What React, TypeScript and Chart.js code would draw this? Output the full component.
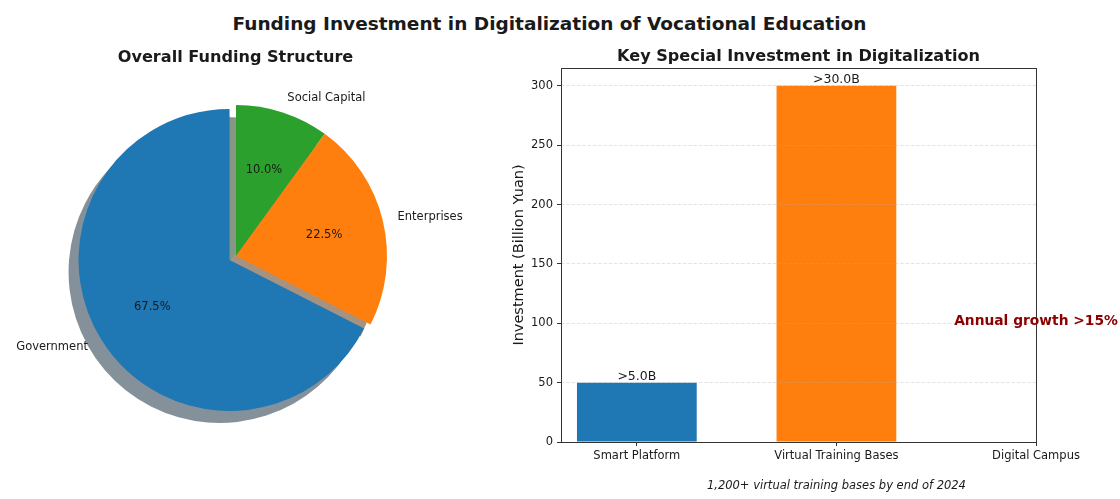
import React, { useEffect, useRef } from 'react';
import { Chart, registerables } from 'chart.js';

Chart.register(...registerables);

// ---------- data ----------
const mainTitle = 'Funding Investment in Digitalization of Vocational Education';
const pieTitle = 'Overall Funding Structure';
const barTitle = 'Key Special Investment in Digitalization';

const pieLabels = ['Government', 'Enterprises', 'Social Capital'];
const pieShares = [67.5, 22.5, 10.0];
const pieColors = ['#1f77b4', '#ff7f0e', '#2ca02c'];
const pieExplode = [0.05, 0, 0];

const barCategories = ['Smart Platform', 'Virtual Training Bases', 'Digital Campus'];
const barValues = [50, 300, 0];
const barValueLabels = ['>5.0B', '>30.0B', ''];
const barColors = ['#1f77b4', '#ff7f0e', '#2ca02c'];
const yTickValues = [0, 50, 100, 150, 200, 250, 300];
const yAxisTitle = 'Investment (Billion Yuan)';
const annotationText = 'Annual growth >15%';
const annotationAt = { x: 2, y: 100 };
const footnoteText = '1,200+ virtual training bases by end of 2024';

// ---------- styles ----------
const FONT = '"DejaVu Sans", "Liberation Sans", sans-serif';
const TEXT = '#1a1a1a';
const PIE_R = 151;
const SHADOW_DX = -10;
const SHADOW_DY = 12;

function shadowColor(hex: string) {
  const n = parseInt(hex.slice(1), 16);
  const r = (n >> 16) & 255, g = (n >> 8) & 255, b = n & 255;
  return `rgba(${Math.round(r * 0.3)},${Math.round(g * 0.3)},${Math.round(b * 0.3)},0.5)`;
}

// Chart.js draws clockwise from top; matplotlib counter-clockwise -> reverse order
const order = pieLabels.map((_, i) => pieLabels.length - 1 - i);
const ordLabels = order.map(i => pieLabels[i]);
const ordShares = order.map(i => pieShares[i]);
const ordColors = order.map(i => pieColors[i]);
const ordExplode = order.map(i => pieExplode[i]);

const pieDecor = {
  id: 'pieDecor',
  beforeDatasetDraw(chart: any, args: any) {
    const ctx = chart.ctx;
    const els = args.meta.data;
    const shift = (el: any, i: number) => {
      const mid = (el.startAngle + el.endAngle) / 2;
      const d = ordExplode[i] * el.outerRadius;
      return [Math.cos(mid) * d, Math.sin(mid) * d];
    };
    els.forEach((el: any, i: number) => {
      const [sx, sy] = shift(el, i);
      ctx.save();
      ctx.translate(sx + SHADOW_DX, sy + SHADOW_DY);
      ctx.beginPath();
      ctx.moveTo(el.x, el.y);
      ctx.arc(el.x, el.y, el.outerRadius, el.startAngle, el.endAngle);
      ctx.closePath();
      ctx.fillStyle = shadowColor(ordColors[i]);
      ctx.fill();
      ctx.restore();
    });
    els.forEach((el: any, i: number) => {
      const [sx, sy] = shift(el, i);
      ctx.save();
      ctx.translate(sx, sy);
      el.draw(ctx);
      ctx.restore();
    });
    return false;
  },
  afterDatasetsDraw(chart: any) {
    const ctx = chart.ctx;
    const els = chart.getDatasetMeta(0).data;
    ctx.save();
    ctx.font = `11.5px ${FONT}`;
    ctx.fillStyle = TEXT;
    ctx.textBaseline = 'middle';
    els.forEach((el: any, i: number) => {
      const mid = (el.startAngle + el.endAngle) / 2;
      const r = el.outerRadius;
      const d = ordExplode[i] * r;
      const cx = el.x + Math.cos(mid) * d;
      const cy = el.y + Math.sin(mid) * d;
      const c = Math.cos(mid), s = Math.sin(mid);
      ctx.textAlign = c > 0 ? 'left' : 'right';
      ctx.fillText(ordLabels[i], cx + c * r * 1.1, cy + s * r * 1.1);
      ctx.textAlign = 'center';
      ctx.fillText(ordShares[i].toFixed(1) + '%', cx + c * r * 0.6, cy + s * r * 0.6);
    });
    ctx.restore();
  },
};

const barDecor = {
  id: 'barDecor',
  afterDatasetsDraw(chart: any) {
    const ctx = chart.ctx;
    const els = chart.getDatasetMeta(0).data;
    ctx.save();
    ctx.font = `12.5px ${FONT}`;
    ctx.fillStyle = TEXT;
    ctx.textAlign = 'center';
    ctx.textBaseline = 'bottom';
    els.forEach((el: any, i: number) => {
      if (barValueLabels[i]) ctx.fillText(barValueLabels[i], el.x, el.y);
    });
    ctx.restore();
  },
  afterDraw(chart: any) {
    const ctx = chart.ctx;
    const a = chart.chartArea;
    const xs = chart.scales.x, ys = chart.scales.y;
    ctx.save();
    ctx.strokeStyle = '#333';
    ctx.lineWidth = 1;
    ctx.strokeRect(Math.round(a.left) + 0.5, Math.round(a.top) + 0.5, Math.round(a.right - a.left), Math.round(a.bottom - a.top));
    ctx.font = `bold 13.8px ${FONT}`;
    ctx.fillStyle = '#8b0000';
    ctx.textAlign = 'center';
    ctx.textBaseline = 'middle';
    ctx.fillText(annotationText, xs.getPixelForValue(annotationAt.x), ys.getPixelForValue(annotationAt.y) - 2);
    ctx.font = `italic 11.5px ${FONT}`;
    ctx.fillStyle = TEXT;
    ctx.fillText(footnoteText, xs.getPixelForValue(1), a.bottom + 44);
    ctx.restore();
  },
};

export default function App() {
  const pieRef = useRef<HTMLCanvasElement>(null);
  const barRef = useRef<HTMLCanvasElement>(null);

  useEffect(() => {
    const pie = new Chart(pieRef.current as HTMLCanvasElement, {
      type: 'pie',
      data: {
        labels: ordLabels,
        datasets: [{ data: ordShares, backgroundColor: ordColors, borderWidth: 0 }],
      },
      options: {
        animation: false,
        responsive: false,
        maintainAspectRatio: false,
        events: [],
        radius: PIE_R,
        layout: { padding: 0 },
        plugins: { legend: { display: false }, tooltip: { enabled: false }, title: { display: false } },
      } as any,
      plugins: [pieDecor as any],
    });

    const tickFont = { family: FONT, size: 11.5 };
    const bar = new Chart(barRef.current as HTMLCanvasElement, {
      type: 'bar',
      data: {
        datasets: [{
          data: barValues.map((v, i) => ({ x: i, y: v })),
          backgroundColor: barColors,
          borderWidth: 0,
          categoryPercentage: 0.6,
          barPercentage: 1,
        }],
      },
      options: {
        animation: false,
        responsive: false,
        maintainAspectRatio: false,
        events: [],
        layout: { padding: { top: 28, right: 84, left: 0, bottom: 0 } },
        plugins: { legend: { display: false }, tooltip: { enabled: false }, title: { display: false } },
        scales: {
          x: {
            type: 'linear',
            offset: false,
            min: -0.38,
            max: 2,
            afterBuildTicks: (s: any) => { s.ticks = barCategories.map((_, i) => ({ value: i })); },
            afterFit: (s: any) => { s.height = 57; },
            ticks: {
              callback: (v: any) => barCategories[v] ?? '',
              font: tickFont,
              color: TEXT,
              padding: 3,
              autoSkip: false,
              maxRotation: 0,
            },
            grid: { display: true, offset: false, drawOnChartArea: false, drawTicks: true, tickLength: 4, tickColor: '#333', tickWidth: 1 },
            border: { display: false },
          },
          y: {
            min: 0,
            max: 315,
            afterBuildTicks: (s: any) => { s.ticks = yTickValues.map(v => ({ value: v })); },
            afterFit: (s: any) => { s.width = 81; },
            ticks: { font: tickFont, color: TEXT, padding: 4 },
            title: {
              display: true,
              text: yAxisTitle,
              font: { family: FONT, size: 14.5 },
              color: TEXT,
              padding: { top: 30.3, bottom: 0 },
            },
            grid: {
              display: true,
              drawOnChartArea: true,
              drawTicks: true,
              tickLength: 4,
              tickColor: '#333',
              tickWidth: 1,
              color: 'rgba(176,176,176,0.35)',
              lineWidth: 1,
              z: 1,
            },
            border: { display: false, dash: [3.5, 1.8] },
          },
        },
      } as any,
      plugins: [barDecor as any],
    });

    return () => { pie.destroy(); bar.destroy(); };
  }, []);

  const abs = (o: React.CSSProperties): React.CSSProperties => ({ position: 'absolute', ...o });

  return (
    <div style={{ position: 'fixed', left: 0, top: 0, width: 1120, height: 499, background: '#fff', fontFamily: FONT, color: TEXT, overflow: 'hidden' }}>
      <canvas ref={pieRef} width={472} height={400} style={abs({ left: 0, top: 56, width: 472, height: 400 })} />
      <canvas ref={barRef} width={640} height={459} style={abs({ left: 480, top: 40, width: 640, height: 459 })} />
      <div style={abs({ left: 0, top: 13, width: 1099, textAlign: 'center', fontWeight: 'bold', fontSize: 18.5, lineHeight: '22px', whiteSpace: 'nowrap' })}>{mainTitle}</div>
      <div style={abs({ left: 0, top: 46, width: 471, textAlign: 'center', fontWeight: 'bold', fontSize: 16.1, lineHeight: '22px', whiteSpace: 'nowrap' })}>{pieTitle}</div>
      <div style={abs({ left: 561, top: 45, width: 475, textAlign: 'center', fontWeight: 'bold', fontSize: 16.1, lineHeight: '22px', whiteSpace: 'nowrap' })}>{barTitle}</div>
    </div>
  );
}
